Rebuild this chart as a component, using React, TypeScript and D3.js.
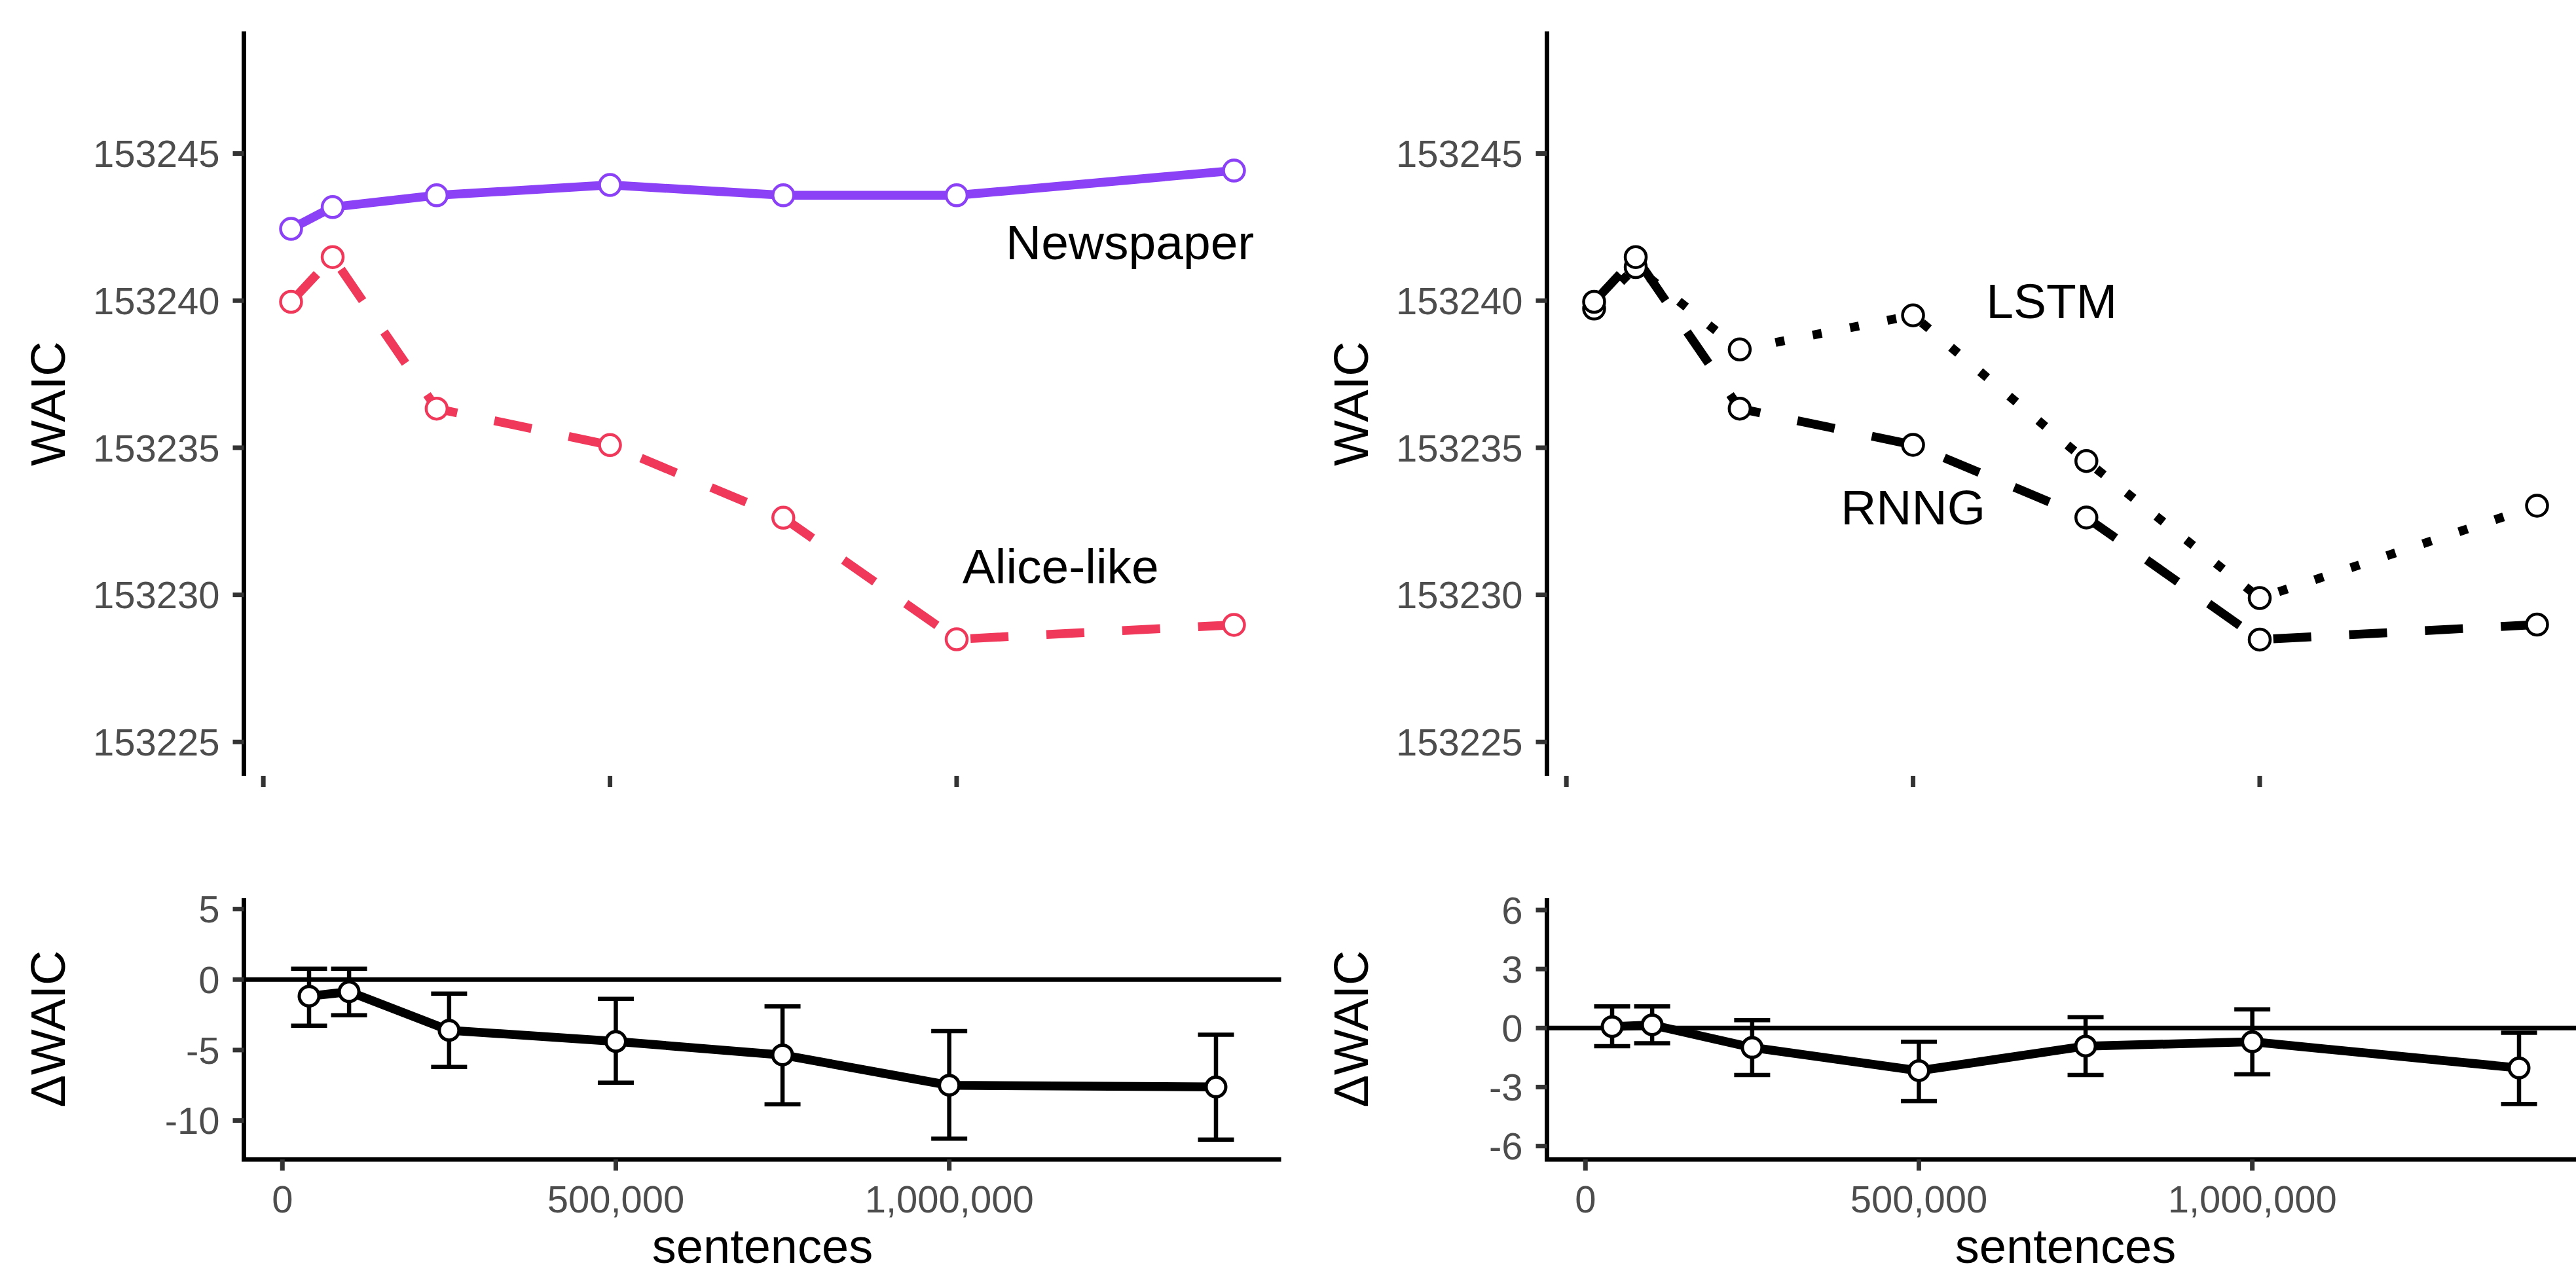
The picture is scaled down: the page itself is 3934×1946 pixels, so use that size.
import React from "react";
import * as d3 from "d3";

// corpus sizes (x) shared by all four panels
const sentences = [40000, 100000, 250000, 500000, 750000, 1000000, 1400000];

// top-left panel
const newspaperWAIC = [153242.44, 153243.18, 153243.58, 153243.93, 153243.58, 153243.58, 153244.42];
const aliceWAIC = [153239.96, 153241.48, 153236.33, 153235.09, 153232.62, 153228.49, 153228.98];

// top-right panel
const lstmWAIC = [153239.73, 153241.14, 153238.34, 153239.5, 153234.55, 153229.89, 153233.03];
const rnngWAIC = [153239.96, 153241.48, 153236.33, 153235.1, 153232.63, 153228.48, 153228.99];

// bottom panels: difference with interval
const diffLeft = [-1.18, -0.86, -3.6, -4.39, -5.35, -7.5, -7.62];
const diffLeftLo = [-3.27, -2.53, -6.2, -7.31, -8.85, -11.29, -11.35];
const diffLeftHi = [0.77, 0.77, -1.0, -1.37, -1.91, -3.66, -3.91];
const diffRight = [0.07, 0.16, -0.99, -2.17, -0.92, -0.7, -2.03];
const diffRightLo = [-0.92, -0.77, -2.39, -3.72, -2.39, -2.35, -3.86];
const diffRightHi = [1.1, 1.1, 0.4, -0.7, 0.55, 0.95, -0.24];

const xTicks = [0, 500000, 1000000];
const waicTicks = [153225, 153230, 153235, 153240, 153245];
const diffTicksLeft = [-10, -5, 0, 5];
const diffTicksRight = [-6, -3, 0, 3, 6];

const FONT = "'Liberation Sans', Arial, Helvetica, sans-serif";
const PURPLE = "#8B41F6";
const RED = "#F0395A";

const W = 3934;
const H = 1946;
const COL_W = 1990;
const PANEL_L = 372.5;
const PANEL_R = 1956.5;
const TOP = [48, 1185];
const BOT = [1372, 1771];
const TICK = 17;
const ERR_W = 54000;

const expand = (lo: number, hi: number) => {
  const r = hi - lo;
  return [lo - 0.05 * r, hi + 0.05 * r];
};

const topXDomain = expand(d3.min(sentences)!, d3.max(sentences)!);
const botXDomain = expand(d3.min(sentences)! - ERR_W / 2, d3.max(sentences)! + ERR_W / 2);
const waicDomain = expand(153225, 153248);

type Series = {
  values: number[];
  color: string;
  dash: string | null;
  label: string;
  lx: number;
  ly: number;
};

const leftSeries: Series[] = [
  { values: aliceWAIC, color: RED, dash: "58,58", label: "Alice-like", lx: 1150000, ly: 153231 },
  { values: newspaperWAIC, color: PURPLE, dash: null, label: "Newspaper", lx: 1250000, ly: 153242 },
];
const rightSeries: Series[] = [
  { values: lstmWAIC, color: "#000", dash: "14,44", label: "LSTM", lx: 700000, ly: 153240 },
  { values: rnngWAIC, color: "#000", dash: "58,58", label: "RNNG", lx: 500000, ly: 153233 },
];

const fmtX = d3.format(",");

function TopPanel({ ox, series }: { ox: number; series: Series[] }) {
  const x = d3.scaleLinear().domain(topXDomain).range([ox + PANEL_L, ox + PANEL_R]);
  const y = d3.scaleLinear().domain(waicDomain).range([TOP[1], TOP[0]]);
  const x0 = ox + PANEL_L;
  return (
    <g>
      {series.map((s, i) => {
        const line = d3
          .line<number>()
          .x((_, j) => x(sentences[j]))
          .y((v) => y(v));
        return (
          <path
            key={"l" + i}
            d={line(s.values) || ""}
            fill="none"
            stroke={s.color}
            strokeWidth={13.5}
            strokeDasharray={s.dash || undefined}
            strokeLinejoin="round"
          />
        );
      })}
      {series.map((s, i) =>
        s.values.map((v, j) => (
          <circle
            key={"p" + i + "-" + j}
            cx={x(sentences[j])}
            cy={y(v)}
            r={16}
            fill="#fff"
            stroke={s.color}
            strokeWidth={4.5}
          />
        ))
      )}
      {series.map((s, i) => (
        <text
          key={"t" + i}
          x={x(s.lx)}
          y={y(s.ly)}
          dy="0.36em"
          textAnchor="middle"
          fontSize={75}
          fontFamily={FONT}
          fill="#000"
        >
          {s.label}
        </text>
      ))}
      <line x1={x0} x2={x0} y1={TOP[0]} y2={TOP[1]} stroke="#000" strokeWidth={7} />
      {waicTicks.map((t) => (
        <g key={t}>
          <line x1={x0 - TICK} x2={x0} y1={y(t)} y2={y(t)} stroke="#333" strokeWidth={7} />
          <text
            x={x0 - TICK - 20}
            y={y(t)}
            dy="0.36em"
            textAnchor="end"
            fontSize={58}
            fontFamily={FONT}
            fill="#4D4D4D"
          >
            {t}
          </text>
        </g>
      ))}
      {xTicks.map((t) => (
        <line key={t} x1={x(t)} x2={x(t)} y1={TOP[1]} y2={TOP[1] + TICK} stroke="#333" strokeWidth={7} />
      ))}
      <text
        transform={`translate(${x0 - 273.5},${(TOP[0] + TOP[1]) / 2}) rotate(-90)`}
        textAnchor="middle"
        fontSize={74}
        fontFamily={FONT}
        fill="#000"
      >
        WAIC
      </text>
    </g>
  );
}

function BottomPanel({
  ox,
  mid,
  lo,
  hi,
  domain,
  ticks,
}: {
  ox: number;
  mid: number[];
  lo: number[];
  hi: number[];
  domain: number[];
  ticks: number[];
}) {
  const x = d3.scaleLinear().domain(botXDomain).range([ox + PANEL_L, ox + PANEL_R]);
  const y = d3.scaleLinear().domain(domain).range([BOT[1], BOT[0]]);
  const x0 = ox + PANEL_L;
  const x1 = ox + PANEL_R;
  const capHalf = (x(ERR_W) - x(0)) / 2;
  const line = d3
    .line<number>()
    .x((_, j) => x(sentences[j]))
    .y((v) => y(v));
  return (
    <g>
      <line x1={x0} x2={x1} y1={y(0)} y2={y(0)} stroke="#000" strokeWidth={7} />
      {sentences.map((s, j) => (
        <g key={"e" + j} stroke="#000" strokeWidth={6.5}>
          <line x1={x(s)} x2={x(s)} y1={y(hi[j])} y2={y(lo[j])} />
          <line x1={x(s) - capHalf} x2={x(s) + capHalf} y1={y(hi[j])} y2={y(hi[j])} />
          <line x1={x(s) - capHalf} x2={x(s) + capHalf} y1={y(lo[j])} y2={y(lo[j])} />
        </g>
      ))}
      <path d={line(mid) || ""} fill="none" stroke="#000" strokeWidth={13.5} strokeLinejoin="round" />
      {mid.map((v, j) => (
        <circle key={"p" + j} cx={x(sentences[j])} cy={y(v)} r={15} fill="#fff" stroke="#000" strokeWidth={5} />
      ))}
      <line x1={x0} x2={x0} y1={BOT[0]} y2={BOT[1]} stroke="#000" strokeWidth={7} />
      <line x1={x0 - 3.5} x2={x1} y1={BOT[1]} y2={BOT[1]} stroke="#000" strokeWidth={7} />
      {ticks.map((t) => (
        <g key={t}>
          <line x1={x0 - TICK} x2={x0} y1={y(t)} y2={y(t)} stroke="#333" strokeWidth={7} />
          <text
            x={x0 - TICK - 20}
            y={y(t)}
            dy="0.36em"
            textAnchor="end"
            fontSize={58}
            fontFamily={FONT}
            fill="#4D4D4D"
          >
            {t}
          </text>
        </g>
      ))}
      {xTicks.map((t) => (
        <g key={t}>
          <line x1={x(t)} x2={x(t)} y1={BOT[1]} y2={BOT[1] + TICK} stroke="#333" strokeWidth={7} />
          <text
            x={x(t)}
            y={BOT[1] + TICK + 64}
            textAnchor="middle"
            fontSize={58}
            fontFamily={FONT}
            fill="#4D4D4D"
          >
            {fmtX(t)}
          </text>
        </g>
      ))}
      <text
        transform={`translate(${x0 - 273.5},${(BOT[0] + BOT[1]) / 2}) rotate(-90)`}
        textAnchor="middle"
        fontSize={74}
        fontFamily={FONT}
        fill="#000"
      >
        ΔWAIC
      </text>
      <text x={(x0 + x1) / 2} y={1929} textAnchor="middle" fontSize={74} fontFamily={FONT} fill="#000">
        sentences
      </text>
    </g>
  );
}

export default function App() {
  return (
    <svg
      width={W}
      height={H}
      viewBox={`0 0 ${W} ${H}`}
      style={{ position: "absolute", left: 0, top: 0, background: "#fff" }}
    >
      <rect x={0} y={0} width={W} height={H} fill="#fff" />
      <TopPanel ox={0} series={leftSeries} />
      <TopPanel ox={COL_W} series={rightSeries} />
      <BottomPanel ox={0} mid={diffLeft} lo={diffLeftLo} hi={diffLeftHi} domain={[-12.76, 5.77]} ticks={diffTicksLeft} />
      <BottomPanel
        ox={COL_W}
        mid={diffRight}
        lo={diffRightLo}
        hi={diffRightHi}
        domain={[-6.68, 6.6]}
        ticks={diffTicksRight}
      />
    </svg>
  );
}
